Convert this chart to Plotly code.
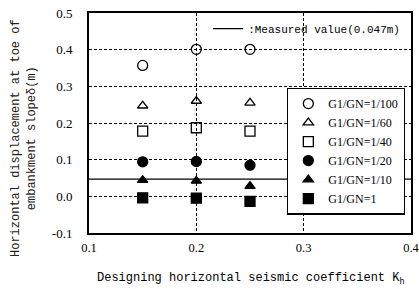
import plotly.graph_objects as go

kh = [0.15, 0.2, 0.25]
series_names = ["G1/GN=1/100", "G1/GN=1/60", "G1/GN=1/40", "G1/GN=1/20", "G1/GN=1/10", "G1/GN=1"]
r_100 = [0.357, 0.401, 0.401]
r_60 = [0.247, 0.260, 0.255]
r_40 = [0.178, 0.187, 0.178]
r_20 = [0.094, 0.095, 0.085]
r_10 = [0.044, 0.042, 0.028]
r_1 = [-0.004, -0.005, -0.014]
measured_value = 0.047
measured_x = [0.1, 0.4]
x_ticks = [0.1, 0.2, 0.3, 0.4]
y_ticks = [-0.1, 0.0, 0.1, 0.2, 0.3, 0.4, 0.5]

series_values = [r_100, r_60, r_40, r_20, r_10, r_1]
symbols = ["circle-open", "triangle-up-open", "square-open", "circle", "triangle-up", "square"]
sizes = [10, 9, 10, 10, 9, 10]

fig = go.Figure()
fig.add_trace(go.Scatter(
    x=measured_x, y=[measured_value, measured_value], mode="lines",
    line=dict(color="black", width=1.3), name=":Measured value(0.047m)",
    legend="legend2"))
for name, vals, sym, sz in zip(series_names, series_values, symbols, sizes):
    fig.add_trace(go.Scatter(
        x=kh, y=vals, mode="markers", name=name,
        marker=dict(symbol=sym, size=sz, color="black",
                    line=dict(color="black", width=1.3))))

axis_common = dict(
    showgrid=True, gridcolor="black", griddash="3px,2px", gridwidth=1,
    showline=True, linecolor="black", linewidth=2, mirror=True,
    zeroline=False, ticks="", ticklabeloverflow="allow",
)
fig.update_xaxes(range=[0.1, 0.4], tickvals=x_ticks,
                 ticktext=[f"{v:.1f}" for v in x_ticks],
                 tickfont=dict(family="Liberation Serif", size=12.5, color="black"),
                 ticklabelstandoff=2, **axis_common)
fig.update_yaxes(range=[-0.1, 0.5], tickvals=y_ticks,
                 ticktext=[f"{v:.1f}" for v in y_ticks],
                 tickfont=dict(family="Liberation Serif", size=13, color="black"),
                 ticklabelstandoff=12, **axis_common)

fig.update_layout(
    width=419, height=289,
    margin=dict(l=89, r=8, t=13, b=56, autoexpand=False),
    paper_bgcolor="white", plot_bgcolor="white",
    showlegend=True,
    legend=dict(x=0.615, y=0.66, xanchor="left", yanchor="top",
                bgcolor="white", bordercolor="black", borderwidth=1.3,
                font=dict(family="Liberation Serif", size=12, color="black"),
                itemwidth=30, tracegroupgap=0),
    legend2=dict(x=0.37, y=0.995, xanchor="left", yanchor="top",
                 bgcolor="rgba(0,0,0,0)", borderwidth=0,
                 font=dict(family="Liberation Mono", size=11, color="black"),
                 itemwidth=30),
    annotations=[
        dict(text="Designing horizontal seismic coefficient K<sub>h</sub>",
             xref="paper", yref="paper", x=0.5, y=-0.165, xanchor="center",
             yanchor="top", showarrow=False,
             font=dict(family="Liberation Mono", size=12, color="black")),
        dict(text="Horizontal displacement at toe of<br>embankment slopeδ(m)",
             xref="paper", yref="paper", x=-0.2, y=0.43, xanchor="center",
             yanchor="middle", textangle=-90, showarrow=False,
             font=dict(family="Liberation Mono", size=12, color="#222222")),
    ],
)

fig.write_html("out.html", config={"displayModeBar": False},
               post_script="document.body.style.margin='0';")
